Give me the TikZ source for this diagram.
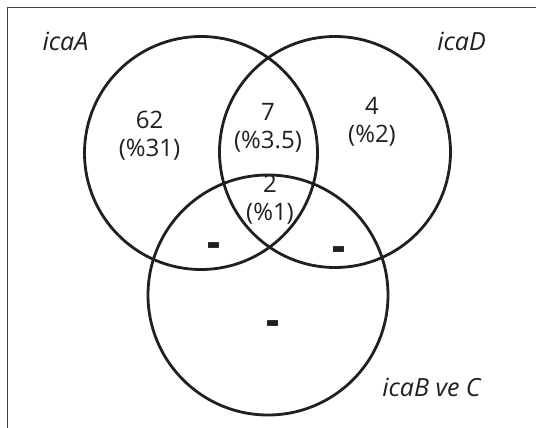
\documentclass[tikz,border=0pt]{standalone}
\usepackage{fontspec}
\setmainfont{Open Sans}
\definecolor{ink}{HTML}{231F20}
\begin{document}
\begin{tikzpicture}[x=1pt,y=-1pt,
  ring/.style={draw=ink,line width=2.8pt,circle,minimum size=#1,inner sep=0pt},
  setname/.style={font=\fontsize{25}{28}\selectfont\itshape,text=ink,inner sep=0pt},
  count/.style={font=\fontsize{24}{28}\selectfont,text=ink,align=center,inner sep=0pt},
  nil/.style={font=\fontsize{26}{26}\selectfont\bfseries,text=ink,inner sep=0pt}]
\useasboundingbox (0,0) rectangle (536,428);
\fill[white] (0,0) rectangle (536,428);
\draw[line width=1pt,draw=black!75] (7.5,428) -- (7.5,7.5) -- (536,7.5);
\node[ring=233pt] (A) at (201,153) {};
\node[ring=231pt] (D) at (335,152) {};
\node[ring=240pt] (B) at (268,295) {};
\node[setname] (lA) at (65.5,41) {icaA};
\node[setname] (lD) at (461.5,41) {icaD};
\node[setname] (lB) at (431.5,387) {icaB ve C};
\node[count] (nA) at (149.5,136) {62\\(\%31)};
\node[count] (nAD) at (268,128) {7\\(\%3.5)};
\node[count] (nD) at (372,122) {4\\(\%2)};
\node[count] (nABD) at (270,200) {2\\(\%1)};
\node[nil] (dAB) at (214,251.5) {\scalebox{1}[2]{–}};
\node[nil] (dDB) at (338.5,254.8) {\scalebox{1}[2]{–}};
\node[nil] (dB) at (272.6,329.3) {\scalebox{1}[2]{–}};
\end{tikzpicture}
\end{document}
